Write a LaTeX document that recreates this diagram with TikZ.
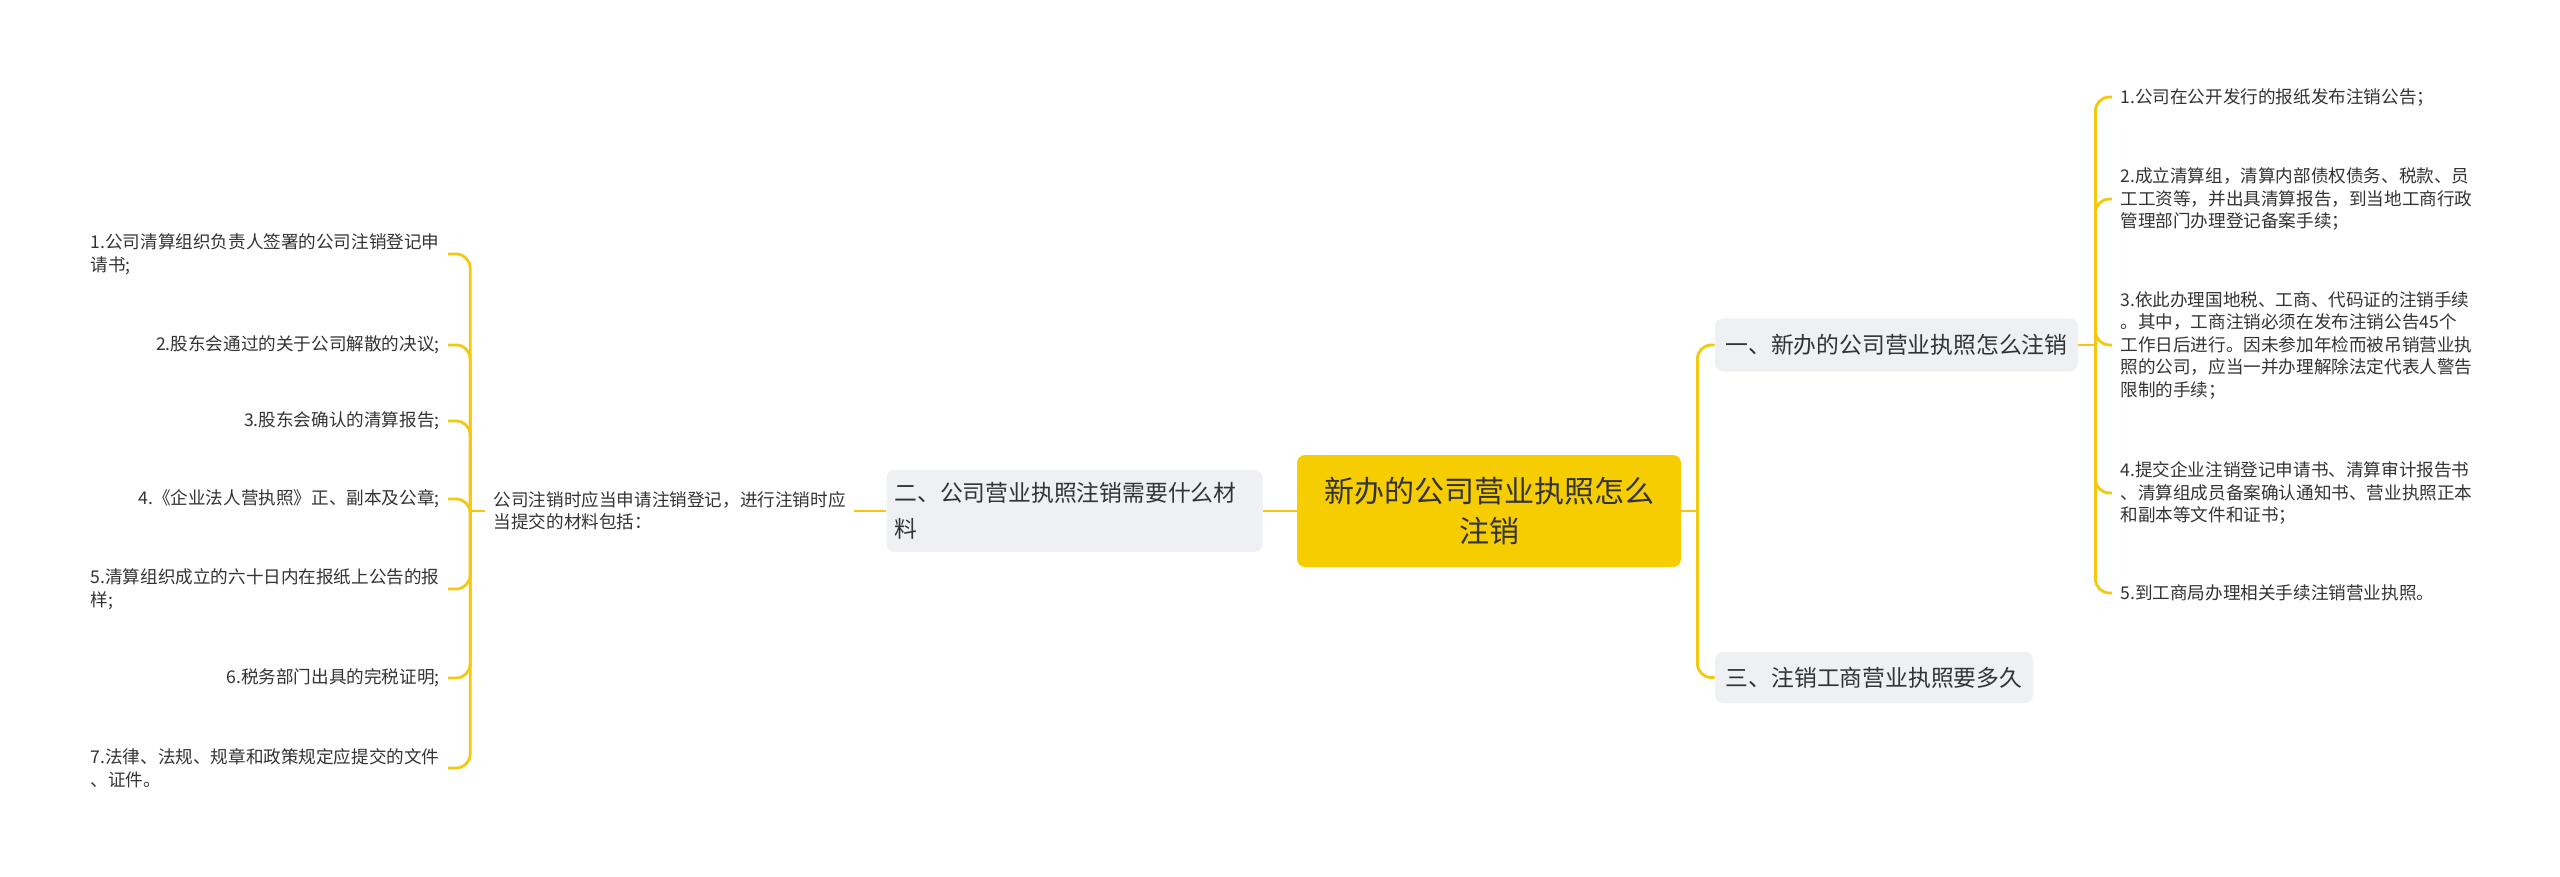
\documentclass[tikz,border=0pt]{standalone}
\usepackage{fontspec}
\newfontfamily\cjk{Noto Sans CJK SC}
\usetikzlibrary{calc}
\definecolor{lineY}{HTML}{F2C811}
\definecolor{rootY}{HTML}{F6CD00}
\definecolor{branchG}{HTML}{EEF0F3}
\definecolor{txt}{HTML}{333333}
\begin{document}
\begin{tikzpicture}[x=0.5pt,y=-0.5pt,
  conn/.style={draw=lineY, line width=1.4pt, rounded corners=7pt},
  rootbox/.style={fill=rootY, rounded corners=4pt, minimum width=192pt, minimum height=56pt, align=center, font=\cjk\fontsize{15}{20}\selectfont, text=txt, inner sep=0pt},
  branchbox/.style={fill=branchG, rounded corners=4pt, font=\cjk\fontsize{11.4}{18}\selectfont, text=txt},
  leaf/.style={font=\cjk\fontsize{8.8}{11.25}\selectfont, text=txt, inner xsep=4pt, inner ysep=0pt},
]
\useasboundingbox (0,0) rectangle (2560,877);

\node[rootbox] (root) at (1489,511) {新办的公司营业执照怎么\\注销};
\node[branchbox, minimum width=181.5pt, minimum height=26.5pt, inner sep=0pt] (b1) at (1896.5,345) {一、新办的公司营业执照怎么注销};
\node[branchbox, minimum width=159pt, minimum height=25.5pt, inner sep=0pt] (b3) at (1874,677.5) {三、注销工商营业执照要多久};
\node[branchbox, text width=180pt, inner xsep=4pt, minimum height=41pt, align=left] (b2) at (1074.5,511) {二、公司营业执照注销需要什么材\\料};

\node[leaf, align=left, anchor=east] (lp) at (854,511) {公司注销时应当申请注销登记，进行注销时应\\当提交的材料包括：};

\node[leaf, align=left, anchor=east] (l1) at (448,254) {1.公司清算组织负责人签署的公司注销登记申\\请书;};
\node[leaf, align=left, anchor=east] (l2) at (448,345) {2.股东会通过的关于公司解散的决议;};
\node[leaf, align=left, anchor=east] (l3) at (448,421) {3.股东会确认的清算报告;};
\node[leaf, align=left, anchor=east] (l4) at (448,499) {4.《企业法人营执照》正、副本及公章;};
\node[leaf, align=left, anchor=east] (l5) at (448,589) {5.清算组织成立的六十日内在报纸上公告的报\\样;};
\node[leaf, align=left, anchor=east] (l6) at (448,678) {6.税务部门出具的完税证明;};
\node[leaf, align=left, anchor=east] (l7) at (448,768) {7.法律、法规、规章和政策规定应提交的文件\\、证件。};

\node[leaf, align=left, anchor=west] (r1) at (2112,97) {1.公司在公开发行的报纸发布注销公告；};
\node[leaf, align=left, anchor=west] (r2) at (2112,199) {2.成立清算组，清算内部债权债务、税款、员\\工工资等，并出具清算报告，到当地工商行政\\管理部门办理登记备案手续；};
\node[leaf, align=left, anchor=west] (r3) at (2112,345) {3.依此办理国地税、工商、代码证的注销手续\\。其中，工商注销必须在发布注销公告45个\\工作日后进行。因未参加年检而被吊销营业执\\照的公司，应当一并办理解除法定代表人警告\\限制的手续；};
\node[leaf, align=left, anchor=west] (r4) at (2112,493) {4.提交企业注销登记申请书、清算审计报告书\\、清算组成员备案确认通知书、营业执照正本\\和副本等文件和证书；};
\node[leaf, align=left, anchor=west] (r5) at (2112,593) {5.到工商局办理相关手续注销营业执照。};

\coordinate (jl) at ($(lp.west)+(-15,0)$);
\coordinate (jc) at ($(root.east)+(16,0)$);
\coordinate (jr) at ($(b1.east)+(17,0)$);

\draw[conn] (root.west) -- (b2.east);
\draw[conn] (b2.west) -- (lp.east);
\draw[conn] (lp.west) -- (jl);
\foreach \n in {l1,l2,l3,l4,l5,l6,l7} \draw[conn] (jl) |- (\n.east);
\draw[conn] (root.east) -- (jc);
\draw[conn] (jc) |- (b1.west);
\draw[conn] (jc) |- (b3.west);
\draw[conn] (b1.east) -- (jr);
\foreach \n in {r1,r2,r3,r4,r5} \draw[conn] (jr) |- (\n.west);
\end{tikzpicture}
\end{document}
